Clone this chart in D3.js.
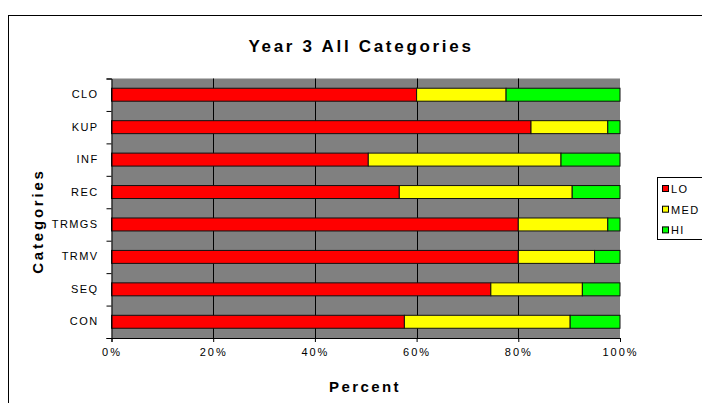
<!DOCTYPE html>
<html>
<head>
<meta charset="utf-8">
<script src="https://cdn.jsdelivr.net/npm/d3@7/dist/d3.min.js"></script>
<style>
  html, body { margin: 0; padding: 0; background: #fff; }
  svg { display: block; font-family: "Liberation Sans", Arial, sans-serif; }
</style>
</head>
<body>
<svg id="chart" width="702" height="403"></svg>
<script>
// Categories, listed top to bottom
const categories = ["CLO", "KUP", "INF", "REC", "TRMGS", "TRMV", "SEQ", "CON"];
// Share of each level per category (percent)
const loValues  = [60, 82.5, 50.5, 56.6, 80, 80, 74.6, 57.6];
const medValues = [17.6, 15.1, 37.9, 34.0, 17.6, 15, 18, 32.6];
const hiValues  = [22.4, 2.4, 11.6, 9.4, 2.4, 5, 7.4, 9.8];
const seriesNames = ["LO", "MED", "HI"];
const seriesColors = ["#ff0000", "#ffff00", "#00ff00"];
const xTicks = [0, 20, 40, 60, 80, 100];

const rows = categories.map((c, i) => ({ cat: c, LO: loValues[i], MED: medValues[i], HI: hiValues[i] }));
const stacked = d3.stack().keys(seriesNames)(rows);

const svg = d3.select("#chart");
const plot = { left: 111.5, right: 620, top: 78.5, bottom: 338 };

// Outer chart frame
svg.append("rect")
  .attr("x", 8.5).attr("y", 15.5)
  .attr("width", 720).attr("height", 420)
  .attr("fill", "#fff").attr("stroke", "#000").attr("stroke-width", 1);

const x = d3.scaleLinear().domain([0, 100]).range([plot.left, plot.right]);
const y = d3.scaleBand().domain(categories).range([plot.top, plot.bottom])
  .paddingInner(0.6).paddingOuter(0.3);
const yEdge = d3.scaleLinear().domain([0, categories.length]).range([plot.top, plot.bottom]);

// Plot background
svg.append("rect")
  .attr("x", plot.left).attr("y", plot.top)
  .attr("width", plot.right - plot.left).attr("height", plot.bottom - plot.top)
  .attr("fill", "#808080");

// Vertical gridlines
svg.append("g")
  .selectAll("line")
  .data(xTicks.filter(t => t > 0 && t < 100))
  .join("line")
  .attr("x1", d => Math.round(x(d)) + 0.5).attr("x2", d => Math.round(x(d)) + 0.5)
  .attr("y1", plot.top).attr("y2", plot.bottom)
  .attr("stroke", "#000").attr("stroke-width", 1);

// Stacked bars
svg.append("g")
  .selectAll("g")
  .data(stacked)
  .join("g")
  .attr("fill", (d, i) => seriesColors[i])
  .selectAll("rect")
  .data(d => d)
  .join("rect")
  .attr("x", d => x(d[0]))
  .attr("y", d => y(d.data.cat))
  .attr("width", d => x(d[1]) - x(d[0]))
  .attr("height", y.bandwidth())
  .attr("stroke", "#111")
  .attr("stroke-width", 1);

// Y axis: tick marks on category boundaries, labels at band centres
svg.append("g")
  .attr("transform", `translate(${plot.left},0)`)
  .call(d3.axisLeft(yEdge).tickValues(d3.range(0, categories.length + 1)).tickSize(5).tickFormat(""))
  .call(g => g.select(".domain").attr("stroke", "#000"));

svg.append("g")
  .attr("transform", `translate(${plot.left},0)`)
  .call(d3.axisLeft(y).tickSize(0).tickPadding(13))
  .call(g => g.select(".domain").remove())
  .call(g => g.selectAll("text")
    .attr("font-size", 11).attr("fill", "#000")
    .style("font-family", "'Liberation Sans', Arial, sans-serif")
    .style("letter-spacing", "1.4px"));

// X axis
svg.append("g")
  .attr("transform", `translate(0,${plot.bottom})`)
  .call(d3.axisBottom(x).tickValues(xTicks).tickSize(4).tickPadding(6).tickFormat(d => d + "%"))
  .call(g => g.select(".domain").attr("stroke", "#000"))
  .call(g => g.selectAll("text")
    .attr("font-size", 11).attr("fill", "#000")
    .style("font-family", "'Liberation Sans', Arial, sans-serif")
    .style("letter-spacing", "2px"));

// Title and axis titles
svg.append("text")
  .attr("x", 361).attr("y", 52)
  .attr("text-anchor", "middle")
  .attr("font-size", 17).attr("font-weight", "bold")
  .style("letter-spacing", "2.7px")
  .text("Year 3 All Categories");

svg.append("text")
  .attr("x", 365).attr("y", 392)
  .attr("text-anchor", "middle")
  .attr("font-size", 15).attr("font-weight", "bold")
  .style("letter-spacing", "2.4px")
  .text("Percent");

svg.append("text")
  .attr("transform", "translate(43,221) rotate(-90)")
  .attr("text-anchor", "middle")
  .attr("font-size", 15).attr("font-weight", "bold")
  .style("letter-spacing", "2.8px")
  .text("Categories");

// Legend
const legend = svg.append("g");
legend.append("rect")
  .attr("x", 657.5).attr("y", 177.5)
  .attr("width", 80).attr("height", 62)
  .attr("fill", "#fff").attr("stroke", "#000").attr("stroke-width", 1);
const items = legend.selectAll("g.item")
  .data(seriesNames)
  .join("g")
  .attr("class", "item")
  .attr("transform", (d, i) => `translate(662,${189 + i * 20.7})`);
items.append("rect")
  .attr("x", 0.5).attr("y", -3.5)
  .attr("width", 6).attr("height", 6)
  .attr("fill", (d, i) => seriesColors[i])
  .attr("stroke", "#000").attr("stroke-width", 1);
items.append("text")
  .attr("x", 9).attr("y", 4)
  .attr("font-size", 11)
  .style("letter-spacing", "1.4px")
  .text(d => d);
</script>
</body>
</html>
